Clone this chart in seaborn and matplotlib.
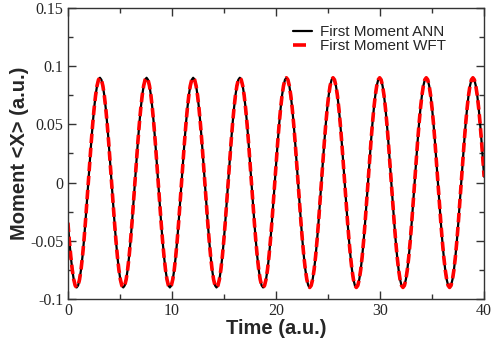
import numpy as np
import pandas as pd
import seaborn as sns
import matplotlib.pyplot as plt
from matplotlib.ticker import MultipleLocator, FuncFormatter

# values, one sample every 0.14 a.u. (last sample at t = 40)
time_step = 0.14
t_end = 40.0
moment_ann = [
    -0.0344, -0.0500, -0.0636, -0.0748, -0.0831, -0.0883, -0.0900, -0.0883,
    -0.0831, -0.0748, -0.0636, -0.0500, -0.0344, -0.0176, 0.0000, 0.0176,
    0.0344, 0.0500, 0.0636, 0.0748, 0.0831, 0.0883, 0.0900, 0.0883,
    0.0831, 0.0748, 0.0636, 0.0500, 0.0344, 0.0176, 0.0000, -0.0176,
    -0.0344, -0.0500, -0.0636, -0.0748, -0.0831, -0.0883, -0.0900, -0.0883,
    -0.0831, -0.0748, -0.0636, -0.0500, -0.0344, -0.0176, 0.0000, 0.0176,
    0.0344, 0.0500, 0.0636, 0.0748, 0.0831, 0.0883, 0.0900, 0.0883,
    0.0831, 0.0748, 0.0636, 0.0500, 0.0344, 0.0176, 0.0000, -0.0176,
    -0.0344, -0.0500, -0.0636, -0.0748, -0.0831, -0.0883, -0.0900, -0.0883,
    -0.0831, -0.0748, -0.0636, -0.0500, -0.0344, -0.0176, 0.0000, 0.0176,
    0.0344, 0.0500, 0.0636, 0.0748, 0.0831, 0.0883, 0.0900, 0.0883,
    0.0831, 0.0748, 0.0636, 0.0500, 0.0344, 0.0176, 0.0000, -0.0176,
    -0.0344, -0.0500, -0.0636, -0.0748, -0.0831, -0.0883, -0.0900, -0.0883,
    -0.0831, -0.0748, -0.0636, -0.0500, -0.0344, -0.0176, 0.0000, 0.0176,
    0.0344, 0.0500, 0.0636, 0.0748, 0.0831, 0.0883, 0.0900, 0.0883,
    0.0831, 0.0748, 0.0636, 0.0500, 0.0344, 0.0176, 0.0000, -0.0176,
    -0.0344, -0.0500, -0.0636, -0.0748, -0.0831, -0.0883, -0.0900, -0.0883,
    -0.0831, -0.0748, -0.0636, -0.0500, -0.0344, -0.0176, 0.0000, 0.0176,
    0.0344, 0.0500, 0.0636, 0.0748, 0.0831, 0.0883, 0.0900, 0.0883,
    0.0831, 0.0748, 0.0636, 0.0500, 0.0344, 0.0176, 0.0000, -0.0176,
    -0.0344, -0.0500, -0.0636, -0.0748, -0.0831, -0.0883, -0.0900, -0.0883,
    -0.0831, -0.0748, -0.0636, -0.0500, -0.0344, -0.0176, 0.0000, 0.0176,
    0.0344, 0.0500, 0.0636, 0.0748, 0.0831, 0.0883, 0.0900, 0.0883,
    0.0831, 0.0748, 0.0636, 0.0500, 0.0344, 0.0176, 0.0000, -0.0176,
    -0.0344, -0.0500, -0.0636, -0.0748, -0.0831, -0.0883, -0.0900, -0.0883,
    -0.0831, -0.0748, -0.0636, -0.0500, -0.0344, -0.0176, 0.0000, 0.0176,
    0.0344, 0.0500, 0.0636, 0.0748, 0.0831, 0.0883, 0.0900, 0.0883,
    0.0831, 0.0748, 0.0636, 0.0500, 0.0344, 0.0176, 0.0000, -0.0176,
    -0.0344, -0.0500, -0.0636, -0.0748, -0.0831, -0.0883, -0.0900, -0.0883,
    -0.0831, -0.0748, -0.0636, -0.0500, -0.0344, -0.0176, 0.0000, 0.0176,
    0.0344, 0.0500, 0.0636, 0.0748, 0.0831, 0.0883, 0.0900, 0.0883,
    0.0831, 0.0748, 0.0636, 0.0500, 0.0344, 0.0176, 0.0000, -0.0176,
    -0.0344, -0.0500, -0.0636, -0.0748, -0.0831, -0.0883, -0.0900, -0.0883,
    -0.0831, -0.0748, -0.0636, -0.0500, -0.0344, -0.0176, 0.0000, 0.0176,
    0.0344, 0.0500, 0.0636, 0.0748, 0.0831, 0.0883, 0.0900, 0.0883,
    0.0831, 0.0748, 0.0636, 0.0500, 0.0344, 0.0176,
    0.0050,
]
# WFT curve lies on top of the ANN curve
moment_wft = list(moment_ann)

time = np.append(np.arange(len(moment_ann) - 1) * time_step, t_end)
df = pd.DataFrame({'time': time, 'ann': moment_ann, 'wft': moment_wft})

sns.set_style('ticks')
plt.rcParams['font.family'] = ['Liberation Serif', 'DejaVu Serif']

fig = plt.figure(figsize=(4.92, 3.43), dpi=100)
ax = fig.add_axes([0.138, 0.128, 0.846, 0.849])

sns.lineplot(data=df, x='time', y='ann', color='black', lw=1.6,
             label='First Moment ANN', ax=ax, sort=False)
sns.lineplot(data=df, x='time', y='wft', color='red', lw=2.6,
             linestyle=(0, (2.6, 1.3)), label='First Moment WFT', ax=ax, sort=False)

ax.set_xlim(0, 40)
ax.set_ylim(-0.1, 0.15)
ax.xaxis.set_major_locator(MultipleLocator(10))
ax.xaxis.set_minor_locator(MultipleLocator(5))
ax.yaxis.set_major_locator(MultipleLocator(0.05))
ax.yaxis.set_minor_locator(MultipleLocator(0.025))
ax.yaxis.set_major_formatter(FuncFormatter(lambda v, p: '{:g}'.format(round(v, 3))))
ax.xaxis.set_major_formatter(FuncFormatter(lambda v, p: '{:g}'.format(v)))
ax.tick_params(which='both', direction='in', top=True, right=True,
               labelsize=11.5, width=1, color='#333333')
ax.tick_params(which='major', length=6, pad=3)
ax.tick_params(which='minor', length=3.5)
for s in ax.spines.values():
    s.set_linewidth(1)
    s.set_color('#333333')

ax.set_xlabel('Time (a.u.)', family='Liberation Sans', fontweight='bold', fontsize=14.5, labelpad=0)
ax.set_ylabel('Moment <X> (a.u.)', family='Liberation Sans', fontweight='bold', fontsize=14.5, labelpad=1)

leg = ax.legend(loc='upper left', frameon=False, prop={'family': 'Liberation Sans', 'size': 11},
                handlelength=1.25, handletextpad=0.5, labelspacing=0.0,
                borderpad=0, borderaxespad=0, bbox_to_anchor=(0.541, 0.94))
# red legend handle: a single short dash
leg.get_lines()[1].set_linestyle((0, (3.6, 10)))

fig.savefig('out.png', dpi=100)
